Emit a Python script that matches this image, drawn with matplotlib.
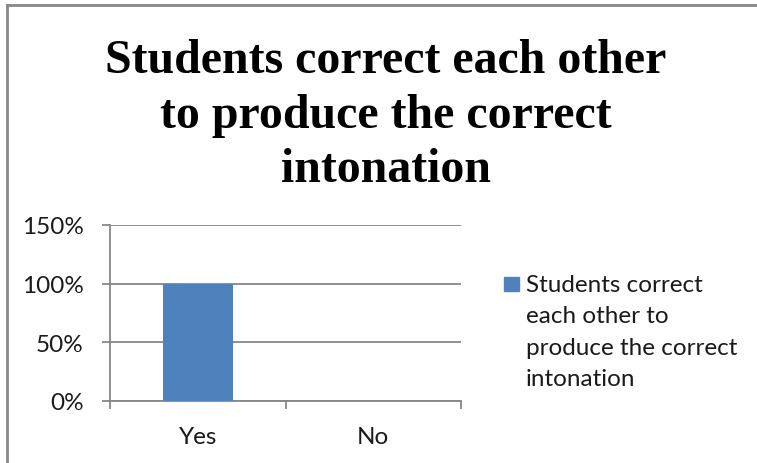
import matplotlib
matplotlib.use('Agg')
import matplotlib.pyplot as plt
from matplotlib.lines import Line2D
from matplotlib.patches import Rectangle
from matplotlib.ticker import FuncFormatter, FixedLocator

# data
categories = ['Yes', 'No']
values = [1.0, 0.0]
series_name = 'Students correct each other to produce the correct intonation'
legend_lines = ['Students correct', 'each other to', 'produce the correct', 'intonation']
title_lines = ['Students correct each other', 'to produce the correct', 'intonation']
y_ticks = [0, 0.5, 1.0, 1.5]

bar_color = '#4F81BD'
grid_color = '#878787'
label_font = ['Lato', 'DejaVu Sans']

W, H = 757, 464
fig = plt.figure(figsize=(W / 100, H / 100), dpi=100)

def px(x, y):
    # pixel (from top-left) -> figure fraction
    return x / W, 1 - y / H

# plot area
left, right, top, bottom = 110, 461, 226, 402
ax = fig.add_axes([left / W, 1 - bottom / H, (right - left) / W, (bottom - top) / H])

xpos = list(range(len(categories)))
ax.bar(xpos, values, width=0.4, color=bar_color, zorder=3)

ax.set_xlim(-0.5, len(categories) - 0.5)
ax.set_ylim(0, 1.5)
ax.set_yticks(y_ticks)
ax.yaxis.set_major_formatter(FuncFormatter(lambda v, p: f'{v * 100:.0f}%'))
ax.set_xticks(xpos)
ax.set_xticklabels(categories)
ax.xaxis.set_minor_locator(FixedLocator([i - 0.5 for i in range(len(categories) + 1)]))

ax.grid(axis='y', color=grid_color, linewidth=1.3, zorder=0)
for s in ['top', 'right']:
    ax.spines[s].set_visible(False)
for s in ['left', 'bottom']:
    ax.spines[s].set_color(grid_color)
    ax.spines[s].set_linewidth(1.3)

ax.tick_params(axis='y', length=6, width=1.3, color=grid_color, pad=13, labelsize=17.5)
ax.tick_params(axis='x', which='major', length=0, pad=18, labelsize=17.5)
ax.tick_params(axis='x', which='minor', length=6, width=1.3, color=grid_color)
for lab in ax.get_xticklabels() + ax.get_yticklabels():
    lab.set_fontfamily(label_font)
    lab.set_color('#1a1a1a')

# title
for i, line in enumerate(title_lines):
    fx, fy = px(386, 73 + i * 54.5)
    fig.text(fx, fy, line, ha='center', va='baseline', fontsize=34.5,
             fontweight='bold', family='Liberation Serif')

# legend
lx, ly = px(504, 292)
fig.add_artist(Rectangle((lx, ly), 15 / W, 14 / H, transform=fig.transFigure,
                         color=bar_color, label=series_name))
for i, line in enumerate(legend_lines):
    fx, fy = px(526, 292 + i * 31.5)
    fig.text(fx, fy, line, ha='left', va='baseline', fontsize=17.5,
             family=label_font, color='#1a1a1a')

# chart border (only top/left visible in crop)
x0, y0 = px(7, 6)
fig.add_artist(Line2D([x0, 1.01], [y0, y0], color=grid_color, lw=2, transform=fig.transFigure))
fig.add_artist(Line2D([x0, x0], [y0, -0.01], color=grid_color, lw=2, transform=fig.transFigure))

fig.savefig('out.png', dpi=100)
